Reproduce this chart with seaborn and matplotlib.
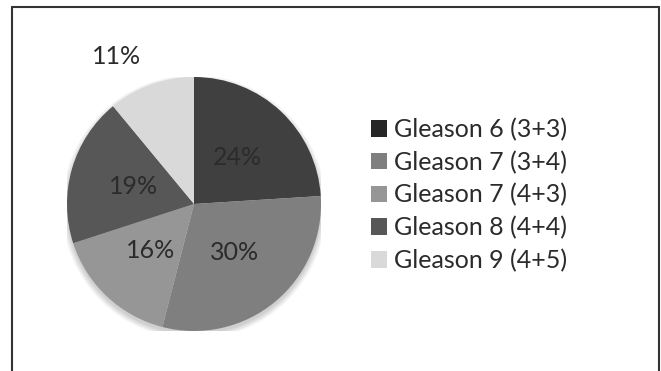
import matplotlib
matplotlib.use("Agg")
import matplotlib.pyplot as plt
import seaborn as sns
from matplotlib.lines import Line2D
from matplotlib.patches import Circle, Patch
import numpy as np

categories = ["Gleason 6 (3+3)", "Gleason 7 (3+4)", "Gleason 7 (4+3)",
              "Gleason 8 (4+4)", "Gleason 9 (4+5)"]
values = [24, 30, 16, 19, 11]
slice_colors = ["#404040", "#7f7f7f", "#969696", "#575757", "#d9d9d9"]
legend_colors = ["#262626", "#7f7f7f", "#969696", "#575757", "#d9d9d9"]

sns.set_theme(style="white")
plt.rcParams["font.family"] = ["Lato", "DejaVu Sans"]

W, H = 661, 371
fig = plt.figure(figsize=(W / 100, H / 100), dpi=100)
fig.patch.set_facecolor("white")

cx, cy, r = 194, 204, 127
ax = fig.add_axes([(cx - r) / W, (H - cy - r) / H, 2 * r / W, 2 * r / H])

# soft shadow
for i in range(8):
    ax.add_patch(Circle((0.0, -0.025), 1.0 + 0.006 * i, color="black",
                        alpha=0.025, lw=0, zorder=0))

wedges, texts, autotexts = ax.pie(
    values, colors=slice_colors, startangle=90, counterclock=False,
    autopct=lambda p: f"{p:.0f}%", pctdistance=0.5,
    wedgeprops=dict(linewidth=0),
    textprops=dict(fontsize=18, color="#2b2b2b"))

# move the small slice label outside
theta = np.deg2rad(90 + 360 * values[-1] / sum(values) / 2 + 8)
autotexts[-1].set_position((1.31 * np.cos(theta), 1.31 * np.sin(theta)))

ax.set_xlim(-1, 1)
ax.set_ylim(-1, 1)
ax.set_aspect("equal")
ax.axis("off")

handles = [Patch(facecolor=c, edgecolor="none") for c in legend_colors]
fig.legend(handles, categories, loc="center left",
           bbox_to_anchor=(358 / W, 1 - 195 / H), frameon=False,
           fontsize=18, handlelength=0.65, handleheight=0.65,
           handletextpad=0.3, labelspacing=0.38, labelcolor="#2b2b2b",
           borderaxespad=0, borderpad=0.5)

# frame lines (top, left, right)
lc = "#333333"
fig.add_artist(Line2D([12 / W, 12 / W], [0, 1 - 7 / H], color=lc, lw=1.5))
fig.add_artist(Line2D([12 / W, 659 / W], [1 - 7 / H, 1 - 7 / H], color=lc, lw=1.5))
fig.add_artist(Line2D([659 / W, 659 / W], [0, 1 - 7 / H], color=lc, lw=1.5))

fig.savefig("out.png", dpi=100, facecolor="white")
